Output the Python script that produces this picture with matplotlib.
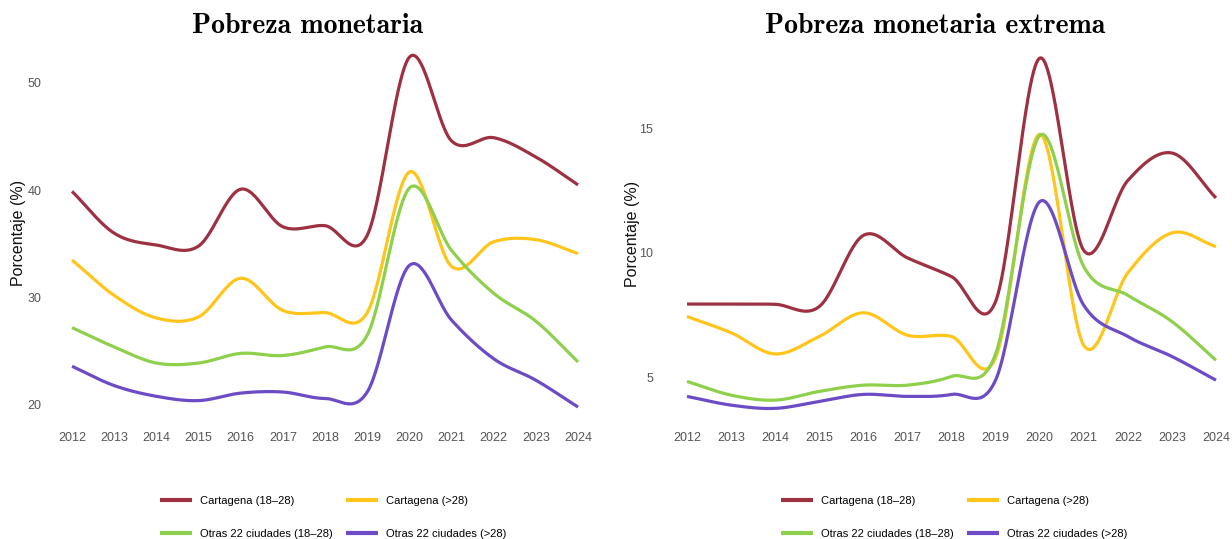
import matplotlib
matplotlib.use("Agg")
import matplotlib.pyplot as plt
import numpy as np

years = np.arange(2012, 2025)

# Pobreza monetaria (%)
pm_cart_joven = [39.9, 36.0, 34.9, 34.8, 40.1, 36.6, 36.7, 35.8, 52.4, 44.6, 44.9, 43.1, 40.5]
pm_cart_adulto = [33.5, 30.2, 28.1, 28.2, 31.8, 28.8, 28.6, 28.6, 41.7, 32.9, 35.2, 35.4, 34.1]
pm_otras_joven = [27.2, 25.4, 23.9, 23.9, 24.8, 24.6, 25.4, 26.5, 40.2, 34.4, 30.4, 27.8, 24.0]
pm_otras_adulto = [23.6, 21.8, 20.8, 20.4, 21.1, 21.2, 20.6, 21.2, 33.0, 27.9, 24.3, 22.3, 19.8]

# Pobreza monetaria extrema (%)
pme_cart_joven = [7.95, 7.95, 7.94, 7.85, 10.7, 9.8, 9.05, 8.05, 17.8, 10.1, 12.9, 14.0, 12.2]
pme_cart_adulto = [7.45, 6.8, 5.95, 6.65, 7.6, 6.7, 6.65, 5.8, 14.75, 6.3, 9.2, 10.8, 10.25]
pme_otras_joven = [4.85, 4.3, 4.1, 4.45, 4.7, 4.7, 5.05, 5.95, 14.7, 9.45, 8.3, 7.25, 5.7]
pme_otras_adulto = [4.25, 3.9, 3.77, 4.05, 4.33, 4.25, 4.33, 4.9, 12.05, 7.9, 6.65, 5.85, 4.9]

etiquetas = ["Cartagena (18–28)", "Cartagena (>28)",
             "Otras 22 ciudades (18–28)", "Otras 22 ciudades (>28)"]
colores = ["#9E3141", "#FFC51A", "#8ED04B", "#6D4BC6"]

tick_font = ["Liberation Sans Narrow", "Liberation Sans", "DejaVu Sans"]


def suavizar(x, y, xs):
    # catmull-rom curve through the yearly points
    x = np.asarray(x, float)
    y = np.asarray(y, float)
    n = len(x)
    m = np.zeros(n)
    m[1:-1] = (y[2:] - y[:-2]) / 2
    m[0] = y[1] - y[0]
    m[-1] = y[-1] - y[-2]
    idx = np.clip(np.searchsorted(x, xs) - 1, 0, n - 2)
    t = (xs - x[idx]) / (x[idx + 1] - x[idx])
    h00 = 2 * t**3 - 3 * t**2 + 1
    h10 = t**3 - 2 * t**2 + t
    h01 = -2 * t**3 + 3 * t**2
    h11 = t**3 - t**2
    return h00 * y[idx] + h10 * m[idx] + h01 * y[idx + 1] + h11 * m[idx + 1]


fig = plt.figure(figsize=(12.32, 5.39), dpi=100)
ax1 = fig.add_axes([59.4 / 1232, 1 - 421 / 539, 531.3 / 1232, 375.6 / 539])
ax2 = fig.add_axes([673.8 / 1232, 1 - 427.6 / 539, 555.4 / 1232, 386.9 / 539])

xs = np.linspace(2012, 2024, 601)

paneles = [
    (ax1, [pm_cart_joven, pm_cart_adulto, pm_otras_joven, pm_otras_adulto],
     (18.5, 53.5), [20, 30, 40, 50], 8, 13, -0.062),
    (ax2, [pme_cart_joven, pme_cart_adulto, pme_otras_joven, pme_otras_adulto],
     (3, 18.5), [5, 10, 15], 3, 15, -0.061),
]

for ax, series, ylim, yticks, pad, ypad, labx in paneles:
    for serie, col, lab in zip(series, colores, etiquetas):
        ax.plot(xs, suavizar(years, serie, xs), color=col, lw=2.3, label=lab,
                solid_capstyle="butt")
    ax.set_xlim(2011.7, 2024.3)
    ax.set_ylim(*ylim)
    ax.set_xticks(years)
    ax.set_yticks(yticks)
    for s in ax.spines.values():
        s.set_visible(False)
    ax.tick_params(length=0, colors="#555555", labelsize=9)
    ax.tick_params(axis="x", pad=pad)
    ax.tick_params(axis="y", pad=ypad)
    for t in ax.get_xticklabels() + ax.get_yticklabels():
        t.set_family(tick_font)
    ax.set_ylabel("Porcentaje (%)", fontsize=11.5, color="#111111",
                  family=["Liberation Sans", "DejaVu Sans"])
    ax.yaxis.set_label_coords(labx, 0.5)

fig.text(308 / 1232, 1 - 26 / 539, "Pobreza monetaria", family="cmb10",
         fontsize=20, ha="center", va="center")
fig.text(935 / 1232, 1 - 26 / 539, "Pobreza monetaria extrema", family="cmb10",
         fontsize=20, ha="center", va="center")

for ax, x0 in [(ax1, 150 / 1232), (ax2, 771 / 1232)]:
    h, l = ax.get_legend_handles_labels()
    orden = [0, 2, 1, 3]
    leg = fig.legend([h[i] for i in orden], [l[i] for i in orden],
                     loc="upper left", bbox_to_anchor=(x0, 1 - 486 / 539),
                     ncol=2, frameon=False, handlelength=2.9, handletextpad=0.7,
                     columnspacing=1.2, labelspacing=2.1,
                     prop={"family": tick_font, "size": 8})
    for line in leg.get_lines():
        line.set_linewidth(3)

fig.savefig("out.png", dpi=100)
